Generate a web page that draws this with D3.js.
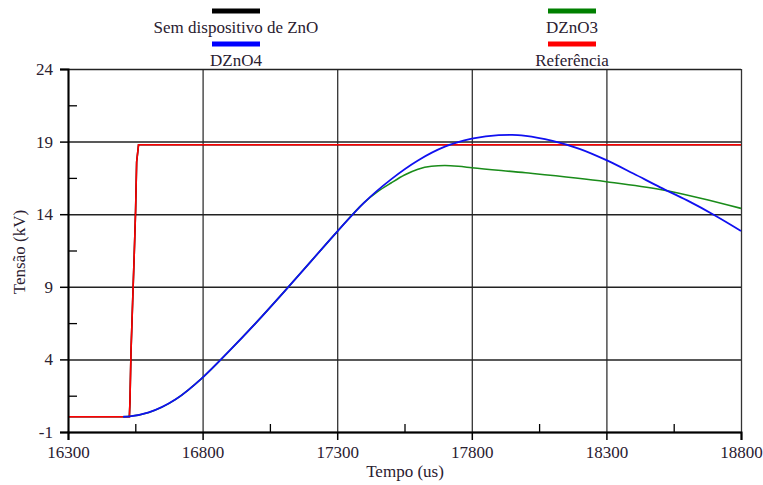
<!DOCTYPE html>
<html>
<head>
<meta charset="utf-8">
<script src="https://cdn.jsdelivr.net/npm/d3@7"></script>
<style>
  body { margin: 0; background: #fff; }
  svg text { font-family: "Liberation Serif", "Times New Roman", "DejaVu Serif", serif; fill: #2a2030; }
</style>
</head>
<body>
<svg id="chart" width="763" height="485"></svg>
<script>
// tick values
let xTicks = [16300, 16800, 17300, 17800, 18300, 18800];
let yTicks = [-1, 4, 9, 14, 19, 24];
let xMinor = [16550, 17050, 17550, 18050, 18550];
let yMinor = [1.5, 6.5, 11.5, 16.5, 21.5];

// series: [time (us), kV]
let refValues = [
  [16300, 0.05], [16528, 0.05], [16530, 1.0], [16534, 4.5], [16540, 7.9],
  [16546, 11.2], [16551, 14.2], [16555, 17.6], [16562, 18.78], [18800, 18.78]
];
let semZnoValues = [
  [16300, 0.05], [16528, 0.05], [16530, 1.0], [16534, 4.5], [16540, 7.9],
  [16546, 11.2], [16551, 14.2], [16555, 17.6], [16562, 18.78], [18800, 18.78]
];
let dzno4Values = [
  [16505, 0.05], [16530, 0.08], [16600, 0.35], [16700, 1.25], [16800, 2.75],
  [16900, 4.6], [17000, 6.55], [17100, 8.6], [17200, 10.7], [17300, 12.8],
  [17400, 14.8], [17500, 16.4], [17600, 17.7], [17700, 18.65], [17800, 19.2],
  [17900, 19.45], [17950, 19.47], [18000, 19.4], [18100, 19.05], [18200, 18.5],
  [18300, 17.72], [18400, 16.8], [18500, 15.85], [18600, 14.95], [18700, 13.95],
  [18800, 12.85]
];
let dzno3Values = [
  [16505, 0.05], [16530, 0.08], [16600, 0.35], [16700, 1.25], [16800, 2.75],
  [16900, 4.6], [17000, 6.55], [17100, 8.6], [17200, 10.7], [17300, 12.8],
  [17400, 14.8], [17450, 15.55], [17500, 16.15], [17550, 16.7], [17600, 17.1],
  [17650, 17.3], [17700, 17.35], [17750, 17.3], [17800, 17.2], [18000, 16.85],
  [18300, 16.24], [18500, 15.7], [18650, 15.1], [18800, 14.4]
];

let legendNames = ["Sem dispositivo de ZnO", "DZnO3", "DZnO4", "Referência"];
let legendColors = ["#000000", "#008000", "#0000ff", "#ff0000"];

let svg = d3.select("#chart");

// scales
let xScale = d3.scaleLinear().domain([16300, 18800]).range([68, 741]);
let yScale = d3.scaleLinear().domain([-1, 24]).range([432, 69]);

// grid lines
svg.append("g")
  .attr("transform", "translate(0, 432)")
  .call(d3.axisBottom(xScale).tickValues(xTicks).tickSize(-363).tickFormat(""))
  .call(g => g.select(".domain").remove())
  .selectAll("line")
  .attr("stroke", "#333")
  .attr("stroke-width", 1.3);

svg.append("g")
  .attr("transform", "translate(68, 0)")
  .call(d3.axisLeft(yScale).tickValues(yTicks).tickSize(-673).tickFormat(""))
  .call(g => g.select(".domain").remove())
  .selectAll("line")
  .attr("stroke", "#222")
  .attr("stroke-width", 1.5);

// minor ticks (inside)
svg.append("g")
  .attr("transform", "translate(0, 432)")
  .call(d3.axisBottom(xScale).tickValues(xMinor).tickSize(-8).tickFormat(""))
  .call(g => g.select(".domain").remove())
  .selectAll("line").attr("stroke", "#000").attr("stroke-width", 1.3);

svg.append("g")
  .attr("transform", "translate(68, 0)")
  .call(d3.axisLeft(yScale).tickValues(yMinor).tickSize(-9).tickFormat(""))
  .call(g => g.select(".domain").remove())
  .selectAll("line").attr("stroke", "#000").attr("stroke-width", 1.3);

// series lines
let lineLin = d3.line()
  .x(d => xScale(d[0]))
  .y(d => yScale(d[1]));

let lineSmooth = d3.line()
  .x(d => xScale(d[0]))
  .y(d => yScale(d[1]))
  .curve(d3.curveMonotoneX);

svg.append("path").datum(semZnoValues)
  .attr("d", lineLin).attr("fill", "none")
  .attr("stroke", "#000").attr("stroke-width", 1.6);

svg.append("path").datum(refValues)
  .attr("d", lineLin).attr("fill", "none")
  .attr("stroke", "#ff0000").attr("stroke-width", 1.6);

svg.append("path").datum(dzno3Values)
  .attr("d", lineSmooth).attr("fill", "none")
  .attr("stroke", "#1a8c1a").attr("stroke-width", 1.6);

svg.append("path").datum(dzno4Values)
  .attr("d", lineSmooth).attr("fill", "none")
  .attr("stroke", "#1010f0").attr("stroke-width", 1.8);

// axes
let xAxis = svg.append("g")
  .attr("transform", "translate(0, 432)")
  .call(d3.axisBottom(xScale).tickValues(xTicks).tickSize(8).tickPadding(6).tickFormat(d => String(d)));
xAxis.select(".domain").attr("stroke", "#000").attr("stroke-width", 2);
xAxis.selectAll("line").attr("stroke", "#000").attr("stroke-width", 1.5);
xAxis.selectAll("text")
  .style("font-family", "'Liberation Serif', 'Times New Roman', serif")
  .style("font-size", "17px")
  .attr("fill", "#2a2030");

let yAxis = svg.append("g")
  .attr("transform", "translate(68, 0)")
  .call(d3.axisLeft(yScale).tickValues(yTicks).tickSize(8).tickPadding(7).tickFormat(d => String(d)));
yAxis.select(".domain").attr("stroke", "#000").attr("stroke-width", 2);
yAxis.selectAll("line").attr("stroke", "#000").attr("stroke-width", 1.5);
yAxis.selectAll("text")
  .style("font-family", "'Liberation Serif', 'Times New Roman', serif")
  .style("font-size", "17px")
  .attr("fill", "#2a2030");

// axis labels
svg.append("text")
  .attr("x", 405)
  .attr("y", 477)
  .style("text-anchor", "middle")
  .style("font-size", "17px")
  .text("Tempo (us)");

svg.append("text")
  .attr("transform", "translate(25, 252) rotate(-90)")
  .style("text-anchor", "middle")
  .style("font-size", "17px")
  .text("Tensão (kV)");

// legend
let legendX = [236, 572, 236, 572];
let legendY = [11, 11, 44, 44];
let legend = svg.append("g");
legendNames.forEach(function (name, i) {
  legend.append("rect")
    .attr("x", legendX[i] - 24)
    .attr("y", legendY[i] - 2.5)
    .attr("width", 48)
    .attr("height", 5)
    .attr("fill", legendColors[i]);
  legend.append("text")
    .attr("x", legendX[i])
    .attr("y", legendY[i] + 22)
    .style("text-anchor", "middle")
    .style("font-size", "17px")
    .text(name);
});
</script>
</body>
</html>
